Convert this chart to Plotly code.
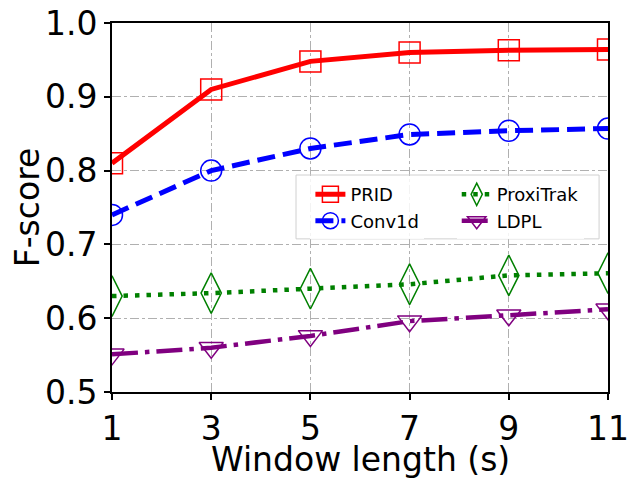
import plotly.graph_objects as go

# window lengths (s)
window = [1, 3, 5, 7, 9, 11]

# F-score per method
prid = [0.810, 0.910, 0.948, 0.960, 0.963, 0.964]
conv1d = [0.740, 0.800, 0.830, 0.849, 0.854, 0.857]
proxitrak = [0.630, 0.634, 0.640, 0.646, 0.658, 0.661]
ldpl = [0.551, 0.560, 0.576, 0.596, 0.604, 0.612]

x_ticks = [1, 3, 5, 7, 9, 11]
y_ticks = [0.5, 0.6, 0.7, 0.8, 0.9, 1.0]

FONT = "DejaVu Sans"

fig = go.Figure()

fig.add_trace(go.Scatter(
    x=window, y=prid, name="PRID", mode="lines+markers",
    line=dict(color="red", width=5),
    marker=dict(symbol="square-open", size=21, color="red", line=dict(width=1.5)),
    legend="legend", legendgroup="a",
))
fig.add_trace(go.Scatter(
    x=window, y=conv1d, name="Conv1d", mode="lines+markers",
    line=dict(color="blue", width=5, dash="18px,8px"),
    marker=dict(symbol="circle-open", size=21, color="blue", line=dict(width=1.5)),
    legend="legend", legendgroup="b",
))
fig.add_trace(go.Scatter(
    x=window, y=proxitrak, name="ProxiTrak", mode="lines+markers",
    line=dict(color="green", width=4.5, dash="4.5px,7px"),
    marker=dict(symbol="diamond-tall-open", size=29, color="green", line=dict(width=1.5)),
    legend="legend2", legendgroup="c",
))
fig.add_trace(go.Scatter(
    x=window, y=ldpl, name="LDPL", mode="lines+markers",
    line=dict(color="purple", width=4.5, dash="26px,7px,4.5px,7px"),
    marker=dict(symbol="triangle-down-open", size=21, color="purple", line=dict(width=1.5)),
    legend="legend2", legendgroup="d",
))

axis_common = dict(
    showline=True, linecolor="black", linewidth=2, mirror=True,
    ticks="outside", ticklen=6, tickwidth=1.5, tickcolor="black",
    showgrid=True, gridcolor="#b0b0b0", gridwidth=1, griddash="dashdot",
    zeroline=False, ticklabeloverflow="allow", automargin=False,
    tickfont=dict(family=FONT, size=33, color="black"),
)

fig.update_xaxes(range=[1, 11], tickvals=x_ticks, **axis_common)
fig.update_yaxes(
    range=[0.5, 1.0], tickvals=y_ticks, tickformat=".1f",
    title=dict(text="F-score", font=dict(family=FONT, size=33, color="black"), standoff=6),
    **axis_common,
)

legend_style = dict(
    bgcolor="rgba(255,255,255,0.85)", borderwidth=0,
    font=dict(family=FONT, size=18, color="black"),
    xanchor="left", yanchor="top", tracegroupgap=0,
)

# page body has an 8px margin, so the figure is sized 8px smaller
fig.update_layout(
    width=631, height=476,
    margin=dict(l=104, r=31, t=15, b=92),
    plot_bgcolor="white", paper_bgcolor="white",
    font=dict(family=FONT, color="black"),
    legend=dict(x=0.40, y=0.585, **legend_style),
    legend2=dict(x=0.695, y=0.585, **legend_style),
    shapes=[dict(
        type="rect", xref="paper", yref="paper",
        x0=0.371, x1=0.982, y0=0.415, y1=0.588,
        line=dict(color="#d0d0d0", width=1), layer="above",
    )],
    # x title as an annotation so it can sit as close to the ticks as in the original
    annotations=[dict(
        text="Window length (s)", xref="paper", yref="paper",
        x=0.5, y=-0.183, xanchor="center", yanchor="middle",
        showarrow=False, font=dict(family=FONT, size=33, color="black"),
    )],
)

fig.write_html("out.html")
